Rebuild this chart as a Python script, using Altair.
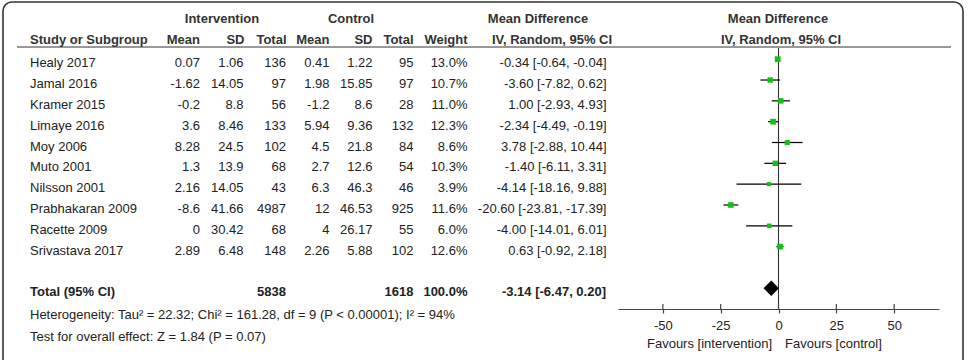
import altair as alt
import pandas as pd

# ---------------- data ----------------
studies = ["Healy 2017", "Jamal 2016", "Kramer 2015", "Limaye 2016", "Moy 2006",
           "Muto 2001", "Nilsson 2001", "Prabhakaran 2009", "Racette 2009", "Srivastava 2017"]
int_mean = [0.07, -1.62, -0.2, 3.6, 8.28, 1.3, 2.16, -8.6, 0, 2.89]
int_sd = [1.06, 14.05, 8.8, 8.46, 24.5, 13.9, 14.05, 41.66, 30.42, 6.48]
int_total = [136, 97, 56, 133, 102, 68, 43, 4987, 68, 148]
ctl_mean = [0.41, 1.98, -1.2, 5.94, 4.5, 2.7, 6.3, 12, 4, 2.26]
ctl_sd = [1.22, 15.85, 8.6, 9.36, 21.8, 12.6, 46.3, 46.53, 26.17, 5.88]
ctl_total = [95, 97, 28, 132, 84, 54, 46, 925, 55, 102]
weight = [13.0, 10.7, 11.0, 12.3, 8.6, 10.3, 3.9, 11.6, 6.0, 12.6]
md = [-0.34, -3.60, 1.00, -2.34, 3.78, -1.40, -4.14, -20.60, -4.00, 0.63]
ci_low = [-0.64, -7.82, -2.93, -4.49, -2.88, -6.11, -18.16, -23.81, -14.01, -0.92]
ci_high = [-0.04, 0.62, 4.93, -0.19, 10.44, 3.31, 9.88, -17.39, 6.01, 2.18]

total_label = "Total (95% CI)"
total_int = 5838
total_ctl = 1618
total_weight = 100.0
total_md = -3.14
total_low = -6.47
total_high = 0.20

heterogeneity = "Heterogeneity: Tau\u00b2 = 22.32; Chi\u00b2 = 161.28, df = 9 (P < 0.00001); I\u00b2 = 94%"
overall = "Test for overall effect: Z = 1.84 (P = 0.07)"
tick_values = [-50, -25, 0, 25, 50]
fav_left = "Favours [intervention]"
fav_right = "Favours [control]"

# ---------------- styling ----------------
FONT = "Liberation Sans"
FS = 13
TXT = "#222222"
HDR = "#333333"
GREEN = "#14c014"
TOTAL_ROW = 11
DIAMOND_HALF = 0.37  # in row units

df = pd.DataFrame({
    "row": list(range(len(studies))),
    "study": studies,
    "im": [str(v) for v in int_mean],
    "isd": [str(v) for v in int_sd],
    "itot": [str(v) for v in int_total],
    "cm": [str(v) for v in ctl_mean],
    "csd": [str(v) for v in ctl_sd],
    "ctot": [str(v) for v in ctl_total],
    "w": weight,
    "wtxt": [f"{v:.1f}%" for v in weight],
    "md": md,
    "lo": ci_low,
    "hi": ci_high,
    "citxt": [f"{m:.2f} [{l:.2f}, {h:.2f}]" for m, l, h in zip(md, ci_low, ci_high)],
})

tot = pd.DataFrame({
    "row": [TOTAL_ROW],
    "label": [total_label],
    "itot": [str(total_int)],
    "ctot": [str(total_ctl)],
    "wtxt": [f"{total_weight:.1f}%"],
    "citxt": [f"{total_md:.2f} [{total_low:.2f}, {total_high:.2f}]"],
})

diamond = pd.DataFrame({
    "x": [total_low, total_md, total_high],
    "y": [TOTAL_ROW, TOTAL_ROW - DIAMOND_HALF, TOTAL_ROW],
    "y2": [TOTAL_ROW, TOTAL_ROW + DIAMOND_HALF, TOTAL_ROW],
})

ticks_df = pd.DataFrame({"t": tick_values})

y_scale = alt.Scale(domain=[0, TOTAL_ROW], range=[59.2, 288.3])
x_scale = alt.Scale(domain=[-69.4, 69.4], range=[618, 939], nice=False, zero=False)
AX = alt.Axis(values=tick_values, title=None, grid=False, ticks=True, tickSize=4,
              tickColor="#444444", domainColor="#444444", domainWidth=1.2, tickWidth=1.2,
              labelFont=FONT, labelFontSize=FS, labelColor=TXT, labelPadding=6,
              labelExpr="'' + datum.value")


def col_text(data, field, xpix, align="right", bold=False):
    return alt.Chart(data).mark_text(
        align=align, baseline="alphabetic", dy=8, font=FONT, fontSize=FS,
        fontWeight="bold" if bold else "normal", color=TXT
    ).encode(
        x=alt.value(xpix),
        y=alt.Y("row:Q", scale=y_scale, axis=None),
        text=f"{field}:N",
    )


def label(text, x, y, align="left", bold=False, color=TXT):
    return alt.Chart(pd.DataFrame({"t": [text]})).mark_text(
        align=align, baseline="alphabetic", font=FONT, fontSize=FS,
        fontWeight="bold" if bold else "normal", color=color
    ).encode(x=alt.value(x), y=alt.value(y), text="t:N")


one = pd.DataFrame({"k": [0]})

frame = alt.Chart(one).mark_rect(
    fillOpacity=0, stroke="#333333", strokeWidth=1.6, cornerRadius=9
).encode(x=alt.value(3), x2=alt.value(963), y=alt.value(2), y2=alt.value(385))

underline = alt.Chart(one).mark_rule(color="#777777", strokeWidth=1.5).encode(
    x=alt.value(17), x2=alt.value(951), y=alt.value(47))

zero_line = alt.Chart(one).mark_rule(color="#333333", strokeWidth=1.1).encode(
    x=alt.X("k:Q", scale=x_scale, axis=AX), y=alt.value(48), y2=alt.value(309))

tick_up = alt.Chart(ticks_df).mark_rule(color="#444444", strokeWidth=1.2).encode(
    x=alt.X("t:Q", scale=x_scale, axis=AX), y=alt.value(304), y2=alt.value(309))

ci_lines = alt.Chart(df).mark_rule(color="black", strokeWidth=1.2).encode(
    x=alt.X("lo:Q", scale=x_scale, axis=AX), x2="hi:Q",
    y=alt.Y("row:Q", scale=y_scale, axis=None))

squares = alt.Chart(df).mark_square(color=GREEN, opacity=1, filled=True).encode(
    x=alt.X("md:Q", scale=x_scale, axis=AX),
    y=alt.Y("row:Q", scale=y_scale, axis=None),
    size=alt.Size("w:Q", scale=alt.Scale(domain=[0, 13], range=[10, 34]), legend=None))

dia = alt.Chart(diamond).mark_area(color="black", orient="vertical").encode(
    x=alt.X("x:Q", scale=x_scale, axis=AX),
    y=alt.Y("y:Q", scale=y_scale, axis=None), y2="y2:Q")

layers = [frame, underline,
          label("Intervention", 222, 23, "center", True, HDR),
          label("Control", 351, 23, "center", True, HDR),
          label("Mean Difference", 538, 23, "center", True, HDR),
          label("Mean Difference", 778, 23, "center", True, HDR),
          label("Study or Subgroup", 30, 44, "left", True, HDR),
          label("Mean", 200, 44, "right", True, HDR),
          label("SD", 244.5, 44, "right", True, HDR),
          label("Total", 286.5, 44, "right", True, HDR),
          label("Mean", 329.5, 44, "right", True, HDR),
          label("SD", 372.5, 44, "right", True, HDR),
          label("Total", 413.5, 44, "right", True, HDR),
          label("Weight", 467.5, 44, "right", True, HDR),
          label("IV, Random, 95% CI", 552, 44, "center", True, HDR),
          label("IV, Random, 95% CI", 781, 44, "center", True, HDR),
          col_text(df, "study", 30, "left"),
          col_text(df, "im", 200),
          col_text(df, "isd", 243.5),
          col_text(df, "itot", 286),
          col_text(df, "cm", 329.5),
          col_text(df, "csd", 372.5),
          col_text(df, "ctot", 413.5),
          col_text(df, "wtxt", 467.5),
          col_text(df, "citxt", 606.5),
          col_text(tot, "label", 30, "left", True),
          col_text(tot, "itot", 286, "right", True),
          col_text(tot, "ctot", 413.5, "right", True),
          col_text(tot, "wtxt", 467.5, "right", True),
          col_text(tot, "citxt", 606, "right", True),
          label(heterogeneity, 30, 319, "left"),
          label(overall, 30, 340.5, "left"),
          label(fav_left, 772, 348, "right"),
          label(fav_right, 785, 348, "left"),
          zero_line, tick_up, ci_lines, squares, dia]

chart = alt.layer(*layers).properties(
    width=971, height=309, autosize="none",
    padding={"left": 0, "top": 0, "right": 0, "bottom": 51},
    background="white",
).configure_view(stroke=None)

chart.save("out.html", embed_options={"renderer": "svg", "actions": False})
